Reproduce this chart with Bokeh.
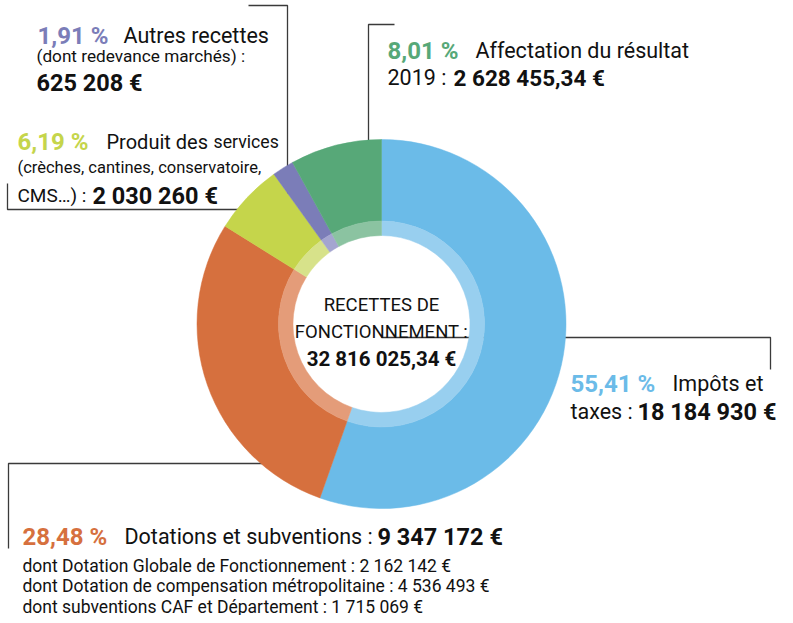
import math
from bokeh.plotting import figure
from bokeh.models import Range1d
from bokeh.core.properties import value
from bokeh.embed import file_html
from bokeh.resources import INLINE

# ---------------- data ----------------
categories = ["Impôts et taxes", "Dotations et subventions", "Produit des services",
              "Autres recettes", "Affectation du résultat 2019"]
amounts = [18184930, 9347172, 2030260, 625208, 2628455.34]
colors = ["#6BBBE8", "#D6703E", "#C5D54B", "#7B7DB8", "#57A878"]
light_colors = ["#98CFEF", "#E49C79", "#D7E28A", "#A4A5D0", "#8BC3A1"]
total_label = "32 816 025,34 €"
dotation_details = [
    ("dont Dotation Globale de Fonctionnement : ", 2162142),
    ("dont Dotation de compensation métropolitaine : ", 4536493),
    ("dont subventions CAF et Département : ", 1715069),
]

total = sum(amounts)
pcts = [a / total * 100 for a in amounts]


def fmt_pct(v):
    return f"{v:.2f}".replace(".", ",") + " %"


def fmt_eur(v):
    if abs(v - round(v)) > 1e-6:
        ip = int(v)
        dec = f"{v - ip:.2f}"[2:]
        s = f"{ip:,}".replace(",", " ") + "," + dec
    else:
        s = f"{int(round(v)):,}".replace(",", " ")
    return s + " €"


W, H = 785, 615
FONT = "Roboto"


def Y(py):
    return H - py


p = figure(width=W, height=H, output_backend="svg", toolbar_location=None,
           x_range=Range1d(0, W), y_range=Range1d(0, H),
           min_border=0, x_axis_type=None, y_axis_type=None)
p.grid.visible = False
p.outline_line_color = None
p.background_fill_color = "white"
p.border_fill_color = "white"

# ---------------- leader lines (under the donut) ----------------
LC = "#3a3a3a"
leaders = [
    ([248, 287, 287, 7, 7], [5, 5, 209, 209, 183]),
    ([394, 368, 368], [24, 24, 200]),
    ([381, 770, 770], [337, 337, 369]),
    ([330, 8, 8], [463, 463, 548]),
]
for xs, ys in leaders:
    p.line(xs, [Y(v) for v in ys], line_color=LC, line_width=1.3)

# ---------------- donut ----------------
CX, CY = 381, Y(323.5)
R_OUT, R_BAND, R_IN = 184.5, 103, 88.5
starts, ends = [], []
acc = 0.0
for a in amounts:
    s = math.pi / 2 - 2 * math.pi * acc / total
    acc += a
    e = math.pi / 2 - 2 * math.pi * acc / total
    starts.append(s)
    ends.append(e)

n = len(amounts)
p.annular_wedge(x=[CX] * n, y=[CY] * n, inner_radius=R_BAND, outer_radius=R_OUT,
                start_angle=starts, end_angle=ends, direction="clock",
                fill_color=colors, line_color=colors, line_width=0.5)
p.annular_wedge(x=[CX] * n, y=[CY] * n, inner_radius=R_IN, outer_radius=R_BAND,
                start_angle=starts, end_angle=ends, direction="clock",
                fill_color=light_colors, line_color=light_colors, line_width=0.5)


# ---------------- texts ----------------
def txt(x, py, t, color="#111111", bold=False, size=21, align="left"):
    p.text(x=[x], y=[Y(py)], text=[t], text_font=value(FONT),
           text_font_size=f"{size}px", text_color=color,
           text_font_style="bold" if bold else "normal",
           text_align=align, text_baseline="alphabetic")


PCT = 24
HEAD = 21.5
NUM = 23.5
SUB = 17.5

# Autres recettes
txt(37, 35, fmt_pct(pcts[3]), colors[3], True, PCT)
txt(123, 35, "Autres recettes", size=HEAD)
txt(36, 55, "(dont redevance marchés) :", size=17.2)
txt(36, 82, fmt_eur(amounts[3]), bold=True, size=NUM)

# Produit des services
txt(17, 141, fmt_pct(pcts[2]), colors[2], True, PCT)
txt(106, 141, "Produit des", size=20)
txt(213, 141, "services", size=17.7)
txt(17, 167, "(crèches, cantines, conservatoire,", size=16.5)
txt(17, 195, "CMS…) :", size=19)
txt(92, 195, fmt_eur(amounts[2]), bold=True, size=NUM)

# Affectation du résultat
txt(387, 50, fmt_pct(pcts[4]), colors[4], True, PCT)
txt(475, 50, "Affectation du résultat", size=HEAD)
txt(387, 77, "2019 :", size=HEAD)
txt(453, 77, fmt_eur(amounts[4]), bold=True, size=22.5)

# Impôts et taxes
txt(570, 383, fmt_pct(pcts[0]), colors[0], True, PCT)
txt(672, 383, "Impôts et", size=HEAD)
txt(570, 411, "taxes :", size=HEAD)
txt(637, 411, fmt_eur(amounts[0]), bold=True, size=NUM)

# Dotations et subventions
txt(22, 536, fmt_pct(pcts[1]), colors[1], True, PCT)
txt(124, 536, "Dotations et subventions :", size=HEAD)
txt(377, 536, fmt_eur(amounts[1]), bold=True, size=NUM)
for i, (lab, v) in enumerate(dotation_details):
    txt(22, 565 + 20.5 * i, lab + fmt_eur(v), size=SUB)

# Center
txt(381, 304, "RECETTES DE", size=18.5, align="center")
txt(381, 331, "FONCTIONNEMENT :", size=18.5, align="center")
txt(381, 358, total_label, bold=True, size=20.5, align="center")

open("out.html", "w").write(file_html(p, INLINE))
